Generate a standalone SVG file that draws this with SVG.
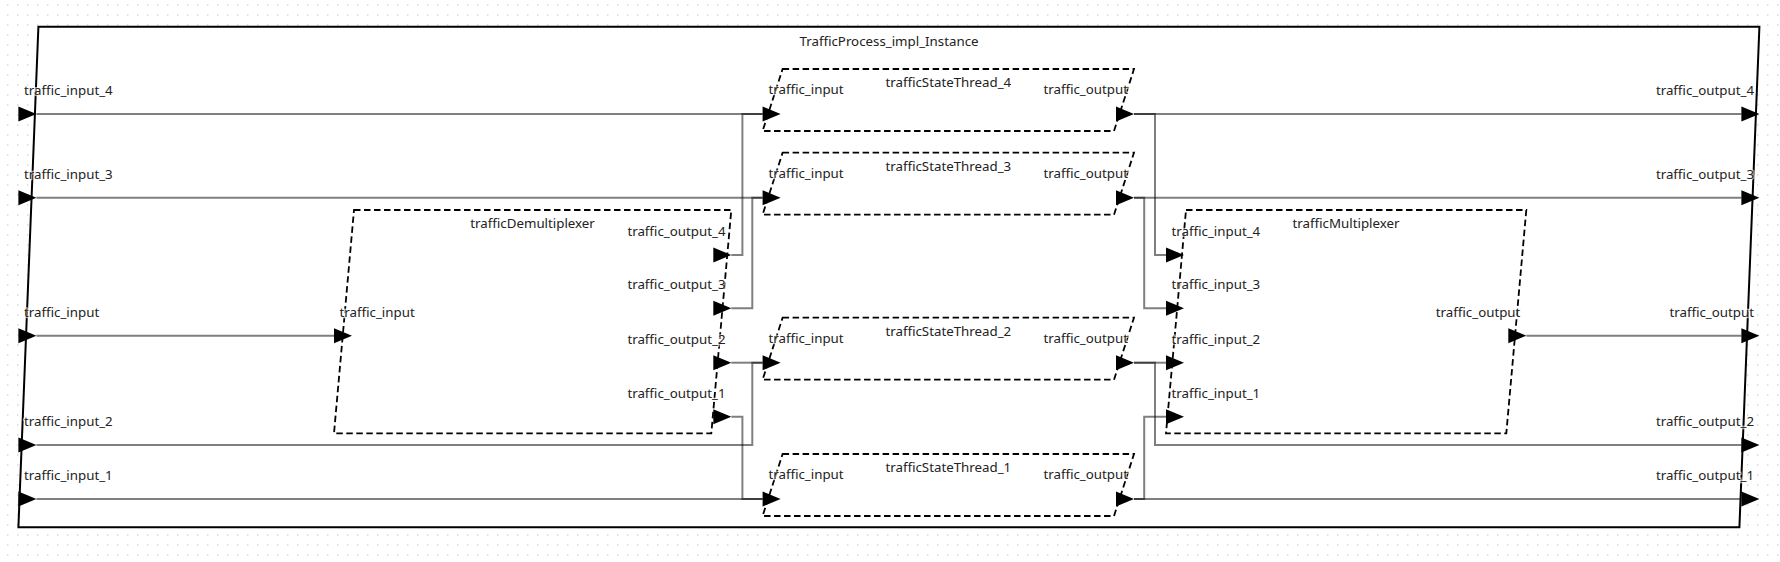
<svg xmlns="http://www.w3.org/2000/svg" width="1780" height="562" viewBox="0 0 1780 562">
<style>
  .lbl { font-family: "Noto Sans", "DejaVu Sans", sans-serif; font-size: 13.3px; fill: #222; stroke: #fff; stroke-width: 2.5px; stroke-opacity: 0.6; paint-order: stroke; }
  .s { text-anchor: start; }
  .e { text-anchor: end; }
  .m { text-anchor: middle; }
  .outer { fill: #fff; stroke: #000; stroke-width: 2; }
  .comp { fill: #fff; stroke: #000; stroke-width: 1.8; stroke-dasharray: 6.5 3.5; }
  .port { fill: #000; stroke: none; }
  .conn path { fill: none; stroke: #000; stroke-opacity: 0.5; stroke-width: 2; }
</style>
<defs>
  <pattern id="dots" x="0" y="0" width="10" height="10" patternUnits="userSpaceOnUse">
    <rect x="7" y="4.3" width="1.4" height="1.4" fill="#d4d4d4"/>
  </pattern>
  <path id="arr" d="M0,-7.5 L18,0 L0,7.5 Z"/>
</defs>
<rect width="1780" height="562" fill="#fff"/>
<rect width="1780" height="562" fill="url(#dots)"/>

<g id="TrafficProcess_impl_Instance">
  <polygon class="outer" points="38.4,26.7 1759.4,26.7 1739.4,527.3 18.4,527.3"/>
  <text class="lbl m" x="889" y="46">TrafficProcess_impl_Instance</text>
</g>

<g id="trafficDemultiplexer">
  <polygon class="comp" points="354,210 731.3,210 711.3,433.3 334,433.3"/>
  <text class="lbl m" x="532.6" y="228.3">trafficDemultiplexer</text>
</g>

<g id="trafficMultiplexer">
  <polygon class="comp" points="1186,210 1526.3,210 1506.3,433.3 1166,433.3"/>
  <text class="lbl m" x="1346" y="228.3">trafficMultiplexer</text>
</g>

<g id="trafficStateThread_4">
  <polygon class="comp" points="782.6,69 1134,69 1114,131 762.6,131"/>
  <text class="lbl m" x="948.3" y="87.3">trafficStateThread_4</text>
</g>
<g id="trafficStateThread_3">
  <polygon class="comp" points="782.6,152.7 1134,152.7 1114,214.7 762.6,214.7"/>
  <text class="lbl m" x="948.3" y="171">trafficStateThread_3</text>
</g>
<g id="trafficStateThread_2">
  <polygon class="comp" points="782.6,317.7 1134,317.7 1114,379.7 762.6,379.7"/>
  <text class="lbl m" x="948.3" y="336">trafficStateThread_2</text>
</g>
<g id="trafficStateThread_1">
  <polygon class="comp" points="782.6,454 1134,454 1114,516 762.6,516"/>
  <text class="lbl m" x="948.3" y="472.3">trafficStateThread_1</text>
</g>

<g id="connectors" class="conn">
  <path d="M36.4,114 H762.6"/>
  <path d="M731.3,255 H742.4 V114 H762.6"/>
  <path d="M36.4,197.7 H762.6"/>
  <path d="M731.3,308.3 H752.3 V197.7 H762.6"/>
  <path d="M36.4,335.7 H334"/>
  <path d="M731.3,362.7 H762.6"/>
  <path d="M36.4,445 H752.3 V362.7 H762.6"/>
  <path d="M731.3,416.7 H742.4 V499 H762.6"/>
  <path d="M36.4,499 H762.6"/>
  <path d="M1134,114 H1741.4"/>
  <path d="M1134,114 H1155 V255 H1166"/>
  <path d="M1134,197.7 H1741.4"/>
  <path d="M1134,197.7 H1144.2 V308.3 H1166"/>
  <path d="M1526.3,335.7 H1741.4"/>
  <path d="M1134,362.7 H1166"/>
  <path d="M1134,362.7 H1155 V445 H1741.4"/>
  <path d="M1134,499 H1144.2 V416.7 H1166"/>
  <path d="M1134,499 H1741.4"/>
</g>

<g id="ports">
  <!-- outer inputs -->
  <use href="#arr" class="port" x="18.4" y="114"/>
  <use href="#arr" class="port" x="18.4" y="197.7"/>
  <use href="#arr" class="port" x="18.4" y="335.7"/>
  <use href="#arr" class="port" x="18.4" y="445"/>
  <use href="#arr" class="port" x="18.4" y="499"/>
  <text class="lbl s" x="24" y="95">traffic_input_4</text>
  <text class="lbl s" x="24" y="178.7">traffic_input_3</text>
  <text class="lbl s" x="24" y="316.7">traffic_input</text>
  <text class="lbl s" x="24" y="426">traffic_input_2</text>
  <text class="lbl s" x="24" y="480">traffic_input_1</text>
  <!-- outer outputs -->
  <use href="#arr" class="port" x="1741.4" y="114"/>
  <use href="#arr" class="port" x="1741.4" y="197.7"/>
  <use href="#arr" class="port" x="1741.4" y="335.7"/>
  <use href="#arr" class="port" x="1741.4" y="445"/>
  <use href="#arr" class="port" x="1741.4" y="499"/>
  <text class="lbl e" x="1754" y="95">traffic_output_4</text>
  <text class="lbl e" x="1754" y="178.7">traffic_output_3</text>
  <text class="lbl e" x="1754" y="316.7">traffic_output</text>
  <text class="lbl e" x="1754" y="426">traffic_output_2</text>
  <text class="lbl e" x="1754" y="480">traffic_output_1</text>
  <!-- demux -->
  <use href="#arr" class="port" x="334" y="335.7"/>
  <text class="lbl s" x="339.5" y="316.7">traffic_input</text>
  <use href="#arr" class="port" x="713.3" y="255"/>
  <use href="#arr" class="port" x="713.3" y="308.3"/>
  <use href="#arr" class="port" x="713.3" y="362.7"/>
  <use href="#arr" class="port" x="713.3" y="416.7"/>
  <text class="lbl e" x="725.5" y="236">traffic_output_4</text>
  <text class="lbl e" x="725.5" y="289.3">traffic_output_3</text>
  <text class="lbl e" x="725.5" y="343.7">traffic_output_2</text>
  <text class="lbl e" x="725.5" y="397.7">traffic_output_1</text>
  <!-- mux -->
  <use href="#arr" class="port" x="1166" y="255"/>
  <use href="#arr" class="port" x="1166" y="308.3"/>
  <use href="#arr" class="port" x="1166" y="362.7"/>
  <use href="#arr" class="port" x="1166" y="416.7"/>
  <text class="lbl s" x="1171.5" y="236">traffic_input_4</text>
  <text class="lbl s" x="1171.5" y="289.3">traffic_input_3</text>
  <text class="lbl s" x="1171.5" y="343.7">traffic_input_2</text>
  <text class="lbl s" x="1171.5" y="397.7">traffic_input_1</text>
  <use href="#arr" class="port" x="1508.3" y="335.7"/>
  <text class="lbl e" x="1520.4" y="316.7">traffic_output</text>
  <!-- threads -->
  <use href="#arr" class="port" x="762.6" y="114"/>
  <use href="#arr" class="port" x="1116" y="114"/>
  <text class="lbl s" x="768.4" y="94.3">traffic_input</text>
  <text class="lbl e" x="1128" y="94.3">traffic_output</text>
  <use href="#arr" class="port" x="762.6" y="197.7"/>
  <use href="#arr" class="port" x="1116" y="197.7"/>
  <text class="lbl s" x="768.4" y="178">traffic_input</text>
  <text class="lbl e" x="1128" y="178">traffic_output</text>
  <use href="#arr" class="port" x="762.6" y="362.7"/>
  <use href="#arr" class="port" x="1116" y="362.7"/>
  <text class="lbl s" x="768.4" y="343">traffic_input</text>
  <text class="lbl e" x="1128" y="343">traffic_output</text>
  <use href="#arr" class="port" x="762.6" y="499"/>
  <use href="#arr" class="port" x="1116" y="499"/>
  <text class="lbl s" x="768.4" y="479.3">traffic_input</text>
  <text class="lbl e" x="1128" y="479.3">traffic_output</text>
</g>
</svg>
